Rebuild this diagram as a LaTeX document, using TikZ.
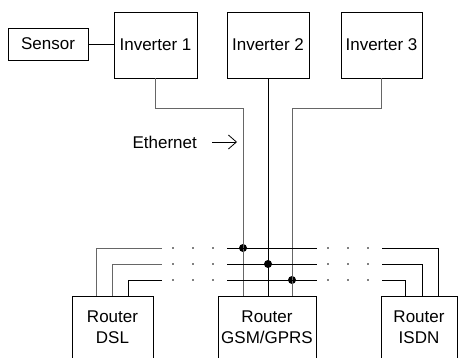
\documentclass[tikz,border=0pt]{standalone}
\usepackage{fontspec}
\setmainfont{Liberation Sans}
\usetikzlibrary{arrows.meta, positioning, calc}

\tikzset{
  box/.style={draw, line width=0.9pt, inner sep=0pt, align=center,
    font=\fontsize{17}{21}\selectfont},
  wire/.style={line width=0.8pt},
  faint/.style={draw=black!60},
  gapdots/.style={line width=1.8pt, line cap=round, dash pattern=on 0pt off 20pt},
  junction/.style={circle, fill, inner sep=0pt, minimum size=8pt}
}

\begin{document}
\begin{tikzpicture}[x=1pt, y=-1pt, >={Straight Barb[length=8pt,width=14pt]}]
  \useasboundingbox (0,0) rectangle (458,358);

  % Sensor and inverters
  \node[box, minimum width=80pt, minimum height=32pt] (sensor) at (48,44) {Sensor};
  \node[box, minimum width=83pt, minimum height=66pt] (inv1) at (155.5,45) {Inverter 1};
  \node[box, minimum width=82pt, minimum height=66pt] (inv2) at (268,45) {Inverter 2};
  \node[box, minimum width=81pt, minimum height=66pt] (inv3) at (381.5,45) {Inverter 3};
  \draw[wire] (sensor.east) -- (sensor.east -| inv1.west);

  % Routers (cut by the lower edge)
  \node[box, minimum width=81pt, minimum height=62pt] (dsl) at (112.5,327) {Router\\DSL};
  \node[box, minimum width=98pt, minimum height=62pt] (gsm) at (267,327) {Router\\GSM/GPRS};
  \node[box, minimum width=76pt, minimum height=62pt] (isdn) at (419,327) {Router\\ISDN};

  % Junctions of the inverter lines with the buses
  \node[junction] (j1) at (243,248) {};
  \node[junction] (j2) at (268,264) {};
  \node[junction] (j3) at (292,280) {};

  % Ethernet lines from the inverters
  \draw[wire, faint] (inv1.south) |- (j1 |- 0,108) -- (gsm.north -| j1);
  \draw[wire] (inv2.south) -- (gsm.north -| j2);
  \draw[wire, faint] (inv3.south) |- (j3 |- 0,108) -- (gsm.north -| j3);
  \node[font=\fontsize{17}{21}\selectfont, inner sep=0pt, anchor=east] (eth) at (197,142) {Ethernet};
  \coordinate (ethtip) at (237,142);
  \draw[wire, ->] ([xshift=15pt]eth.east) -- (ethtip);

  % Buses to the routers
  \foreach \y/\xl/\xr/\col in {248/96/438/black!60, 264/112/422/black!60, 280/128/405/black}{
    \draw[wire, draw=\col] (dsl.north -| \xl,0) |- (162,\y);
    \draw[gapdots] (173,\y) -- (213.5,\y);
    \draw[wire] (227,\y) -- (317,\y);
    \draw[gapdots] (328,\y) -- (368.5,\y);
    \draw[wire] (382,\y) -| (isdn.north -| \xr,0);
  }
\end{tikzpicture}
\end{document}
